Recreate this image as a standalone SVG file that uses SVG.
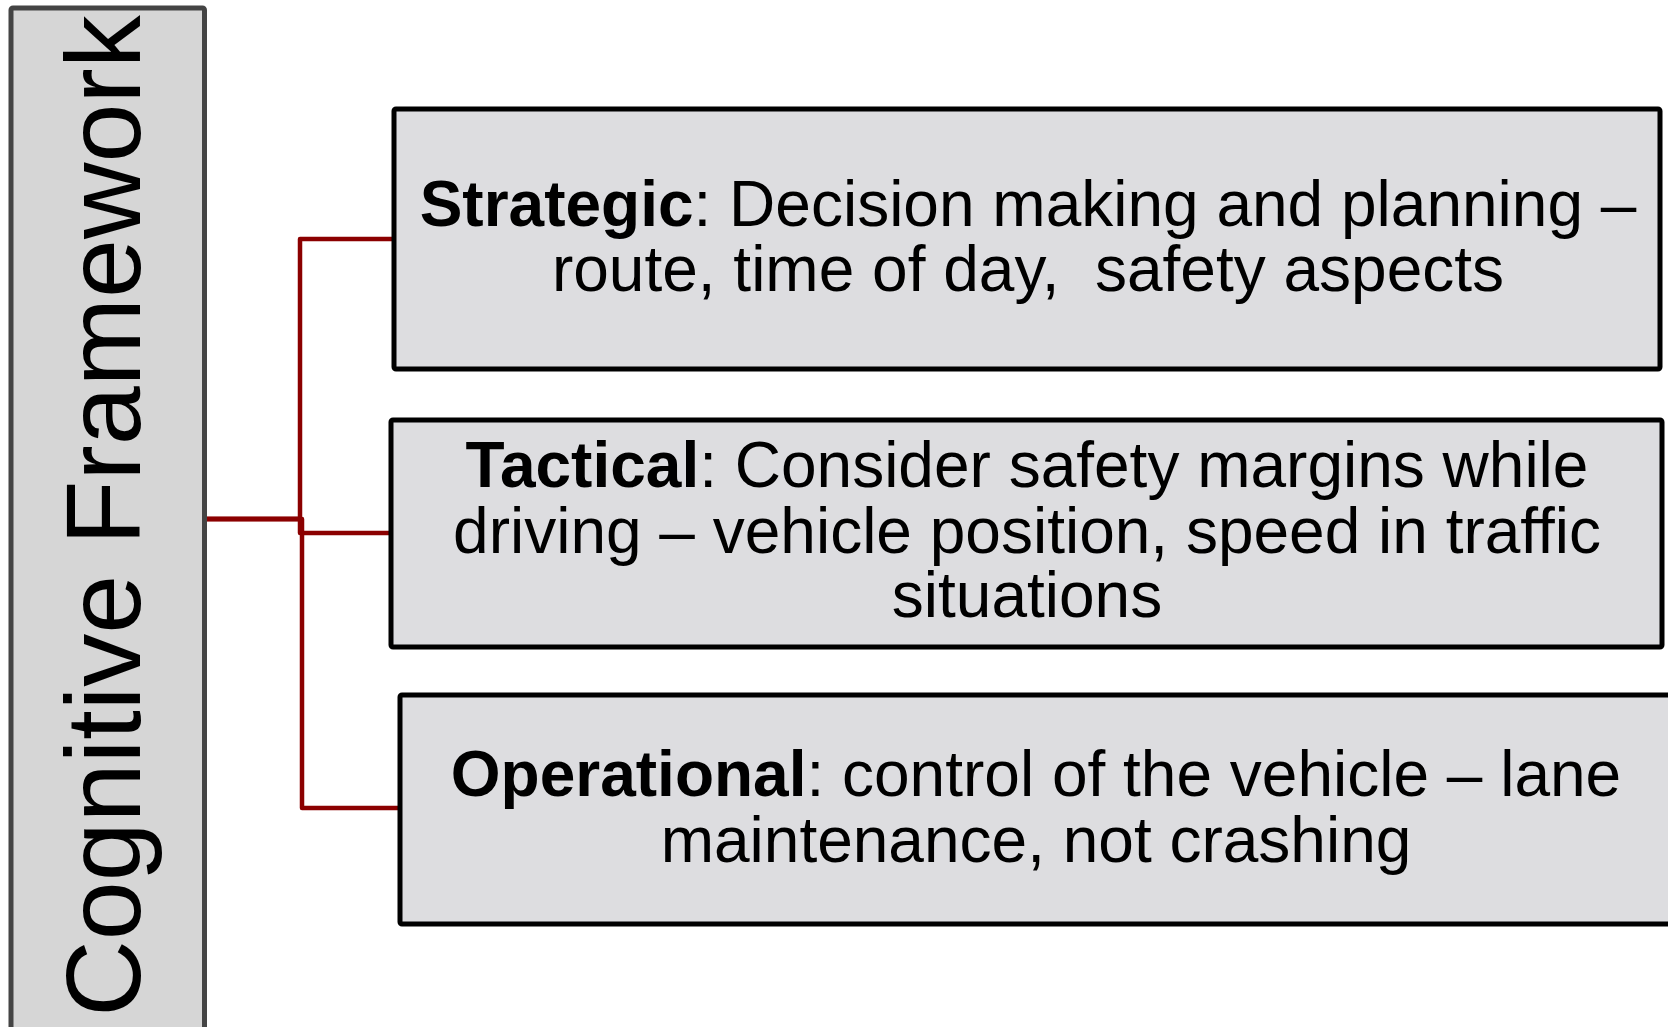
<svg xmlns="http://www.w3.org/2000/svg" width="1668" height="1027" viewBox="0 0 1668 1027">
<style>
.lvl{fill:#dddde0;stroke:#000;stroke-width:5;stroke-linejoin:round}
.main{fill:#d6d6d6;stroke:#444;stroke-width:5;stroke-linejoin:round}
.t{font-family:"Liberation Sans",Arial,sans-serif;font-size:64px;fill:#000;text-anchor:middle}
.b{font-weight:bold}
.title{font-family:"Liberation Sans",Arial,sans-serif;font-size:106px;fill:#000;text-anchor:middle}
.c{fill:none;stroke:#8b0000;stroke-width:4.5;stroke-linejoin:round}
</style>
<rect width="1668" height="1027" fill="#fff"/>
<g id="connectors">
<path class="c" d="M205,519 H300 V239 H394"/>
<path class="c" d="M205,519 H300 V533 H391"/>
<path class="c" d="M205,519 H302 V808 H400"/>
</g>
<g id="cognitive-framework">
<rect class="main" x="11" y="8" width="193.5" height="1040" rx="2"/>
<text class="title" transform="rotate(-90)" x="-516" y="140">Cognitive Framework</text>
</g>
<g id="strategic">
<rect class="lvl" x="394" y="109" width="1266" height="260" rx="2"/>
<text class="t" x="1028" y="226"><tspan class="b">Strategic</tspan>: Decision making and planning –</text>
<text class="t" x="1028" y="291" xml:space="preserve">route, time of day,  safety aspects</text>
</g>
<g id="tactical">
<rect class="lvl" x="391" y="420" width="1271" height="227" rx="2"/>
<text class="t" x="1027" y="487"><tspan class="b">Tactical</tspan>: Consider safety margins while</text>
<text class="t" x="1027" y="553">driving – vehicle position, speed in traffic</text>
<text class="t" x="1027" y="617">situations</text>
</g>
<g id="operational">
<rect class="lvl" x="400" y="695" width="1280" height="229" rx="2"/>
<text class="t" x="1036" y="796"><tspan class="b">Operational</tspan>: control of the vehicle – lane</text>
<text class="t" x="1036" y="862">maintenance, not crashing</text>
</g>
</svg>
